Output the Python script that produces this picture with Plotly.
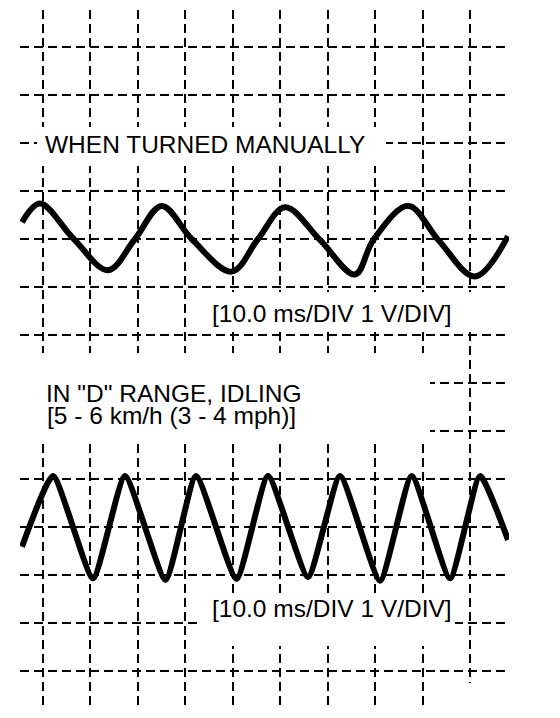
import plotly.graph_objects as go

# ---- data (time in ms, signal in V; 10 ms/DIV, 1 V/DIV) ----
manual_ms = [-4.31, -0.53, 6.41, 13.77, 19.45, 25.07, 31.38, 39.79, 45.32, 51.00,
             58.36, 65.72, 69.57, 76.93, 83.24, 90.96, 97.90]
manual_v = [9.35, 9.74, 9.02, 8.35, 9.00, 9.69, 9.00, 8.32, 9.00, 9.66,
            8.98, 8.26, 8.98, 9.69, 8.98, 8.22, 9.06]

idle_ms = [-4.31, 2.21, 10.62, 17.35, 25.87, 32.28, 40.80, 47.42, 55.84, 62.57,
           70.98, 77.64, 85.70, 92.01, 97.90]
idle_v = [2.59, 4.06, 1.93, 4.06, 1.90, 4.06, 1.92, 4.06, 1.96, 4.06,
          1.88, 4.06, 1.93, 4.06, 2.73]

title_manual = "WHEN TURNED MANUALLY"
title_idle = 'IN "D" RANGE, IDLING'
subtitle_idle = "[5 - 6 km/h (3 - 4 mph)]"
scale_label = "[10.0 ms/DIV 1 V/DIV]"

# ---- layout geometry (page pixels; the page body adds an 8px offset) ----
OFF = 8
W, H = 560 - 2 * OFF, 718 - 2 * OFF
PL, PR, PT, PB = 20, 509, 10, 706          # plot area in page pixels
X0_PX, X_PX_PER_MS = 42.5, 4.755
Y0_PX, Y_PX_PER_V = 671.0, 48.0


def dx(px):
    return (px - X0_PX) / X_PX_PER_MS


def dy(py):
    return (Y0_PX - py) / Y_PX_PER_V


FONT = dict(family="Liberation Sans, Arial, sans-serif", size=24.5, color="black")

fig = go.Figure()
fig.add_trace(go.Scatter(x=manual_ms, y=manual_v, mode="lines",
                         line=dict(color="black", width=6, shape="spline", smoothing=1.0),
                         hoverinfo="skip", showlegend=False))
fig.add_trace(go.Scatter(x=idle_ms, y=idle_v, mode="lines",
                         line=dict(color="black", width=6, shape="spline", smoothing=0.5),
                         hoverinfo="skip", showlegend=False))

# white masks: gaps in the graticule where the captions sit
masks = [
    (37, 127, 386, 166),
    (200, 292, 480, 332),
    (PL - 1, 353, 430, 440),
    (197, 593, 455, 646),
    (460, 683, 490, PB + 1),
]
for x0, y0, x1, y1 in masks:
    fig.add_shape(type="rect", xref="x", yref="y",
                  x0=dx(x0), x1=dx(x1), y0=dy(y1), y1=dy(y0),
                  fillcolor="white", line=dict(width=0), layer="above")

annots = [
    (title_manual, 43, 144),
    (scale_label, 210, 313),
    (title_idle, 44, 393),
    (subtitle_idle, 45, 415.5),
    (scale_label, 210, 608),
]
for txt, ax, ay in annots:
    fig.add_annotation(text=txt, x=dx(ax), y=dy(ay), xref="x", yref="y",
                       xanchor="left", yanchor="middle", showarrow=False,
                       font=FONT)

grid = dict(showgrid=True, gridcolor="black", gridwidth=2, griddash="9px,5px",
            zeroline=False, showline=False, showticklabels=False, ticks="")
fig.update_xaxes(range=[dx(PL), dx(PR)], tick0=0, dtick=10, **grid)
fig.update_yaxes(range=[dy(PB), dy(PT)], tick0=0, dtick=1, **grid)

fig.update_layout(width=W, height=H,
                  margin=dict(l=PL - OFF, r=W - (PR - OFF), t=PT - OFF, b=H - (PB - OFF), pad=0),
                  paper_bgcolor="white", plot_bgcolor="white",
                  showlegend=False)

fig.write_html("out.html")
